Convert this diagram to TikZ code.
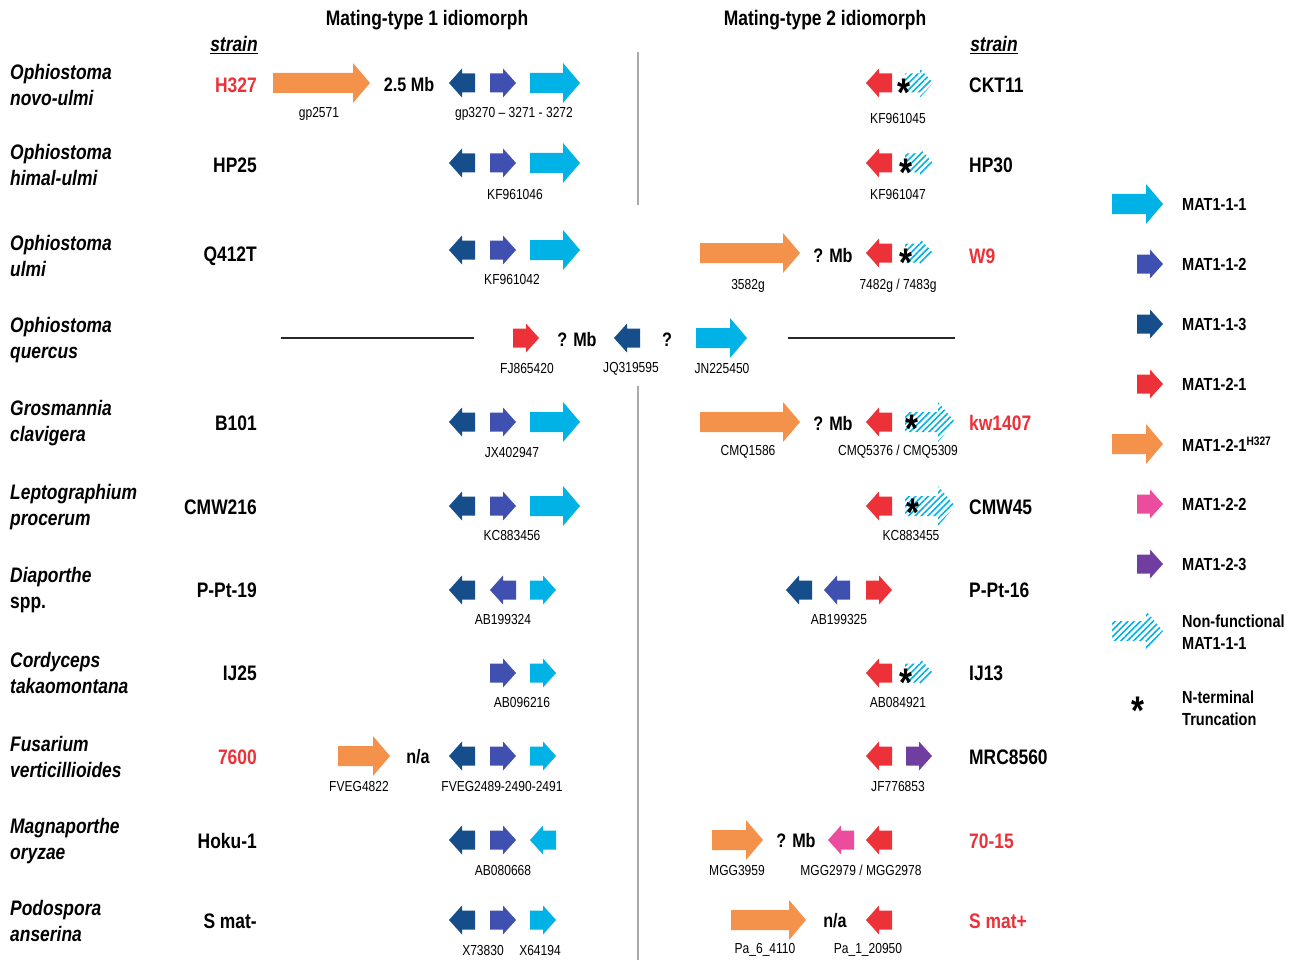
\documentclass[tikz,border=0pt]{standalone}
\usepackage{fontspec}
\setmainfont{Liberation Sans}[FakeStretch=0.83]
\usetikzlibrary{patterns.meta}
\definecolor{cyanc}{RGB}{0,178,230}
\definecolor{bluec}{RGB}{64,80,176}
\definecolor{dkbluec}{RGB}{22,78,140}
\definecolor{redc}{RGB}{236,50,56}
\definecolor{orangec}{RGB}{244,146,76}
\definecolor{pinkc}{RGB}{236,76,158}
\definecolor{purplec}{RGB}{112,62,160}
\definecolor{linec}{RGB}{40,40,40}
\definecolor{divc}{RGB}{170,170,170}
% small right arrow: #1 left x, #2 centre y, #3 style
\newcommand\gSR[3]{\fill[#3] (#1,#2-9.5) -- (#1+13,#2-9.5) -- (#1+13,#2-14.5) -- (#1+26,#2) -- (#1+13,#2+14.5) -- (#1+13,#2+9.5) -- (#1,#2+9.5) -- cycle;}
% small left arrow: #1 left x (tip), #2 centre y, #3 style
\newcommand\gSL[3]{\fill[#3] (#1+26,#2-9.5) -- (#1+13,#2-9.5) -- (#1+13,#2-14.5) -- (#1,#2) -- (#1+13,#2+14.5) -- (#1+13,#2+9.5) -- (#1+26,#2+9.5) -- cycle;}
% big right arrow: #1 left x, #2 tip x, #3 centre y, #4 style
\newcommand\gBR[4]{\fill[#4] (#1,#3-10) -- (#2-17,#3-10) -- (#2-17,#3-20) -- (#2,#3) -- (#2-17,#3+20) -- (#2-17,#3+10) -- (#1,#3+10) -- cycle;}
% hatched small right arrow (length 28)
\newcommand\gHS[2]{\fill[nonf] (#1,#2-9.5) -- (#1+15,#2-9.5) -- (#1+15,#2-14.5) -- (#1+28,#2) -- (#1+15,#2+14.5) -- (#1+15,#2+9.5) -- (#1,#2+9.5) -- cycle;}
\begin{document}
\begin{tikzpicture}[x=1pt,y=-1pt,
  mat111/.style={fill=cyanc}, mat112/.style={fill=bluec}, mat113/.style={fill=dkbluec},
  mat121/.style={fill=redc}, mat121h/.style={fill=orangec}, mat122/.style={fill=pinkc},
  mat123/.style={fill=purplec},
  nonf/.style={pattern={Lines[angle=45,distance=4.5pt,line width=1.6pt]}, pattern color=cyanc},
  header/.style={font=\fontsize{21}{21}\selectfont\bfseries},
  species/.style={anchor=west, align=left, inner sep=0pt, font=\fontsize{21}{26}\selectfont\bfseries\itshape},
  strainL/.style={anchor=east, inner sep=0pt, font=\fontsize{21}{21}\selectfont\bfseries},
  strainR/.style={anchor=west, inner sep=0pt, font=\fontsize{21}{21}\selectfont\bfseries},
  redtext/.style={text=redc},
  gene/.style={inner sep=0pt, font=\fontsize{14.5}{14.5}\selectfont},
  dist/.style={inner sep=0pt, font=\fontsize{19.5}{19.5}\selectfont\bfseries},
  ast/.style={anchor=base, inner sep=0pt, font=\fontsize{40}{40}\selectfont\bfseries},
  leg/.style={anchor=west, align=left, inner sep=0pt, font=\fontsize{17.5}{21.5}\selectfont\bfseries},
  divider/.style={draw=divc, line width=1.5pt},
  hline/.style={draw=linec, line width=1.8pt}]
\useasboundingbox (0,0) rectangle (1295,960);
\fill[white] (0,0) rectangle (1295,960);

% headers
\node[header] (h1) at (427,20) {Mating-type 1 idiomorph};
\node[header] (h2) at (825,20) {Mating-type 2 idiomorph};
\node[header, font=\fontsize{21}{21}\selectfont\bfseries\itshape] (st1) at (234,45) {\underline{strain}};
\node[header, font=\fontsize{21}{21}\selectfont\bfseries\itshape] (st2) at (994,45) {\underline{strain}};

% dividers
\coordinate (d1a) at (638,52); \coordinate (d1b) at (638,205);
\coordinate (d2a) at (638,386); \coordinate (d2b) at (638,960);
\draw[divider] (d1a) -- (d1b);
\draw[divider] (d2a) -- (d2b);

% species
\node[species] (sp1) at (10,85) {Ophiostoma\\novo-ulmi};
\node[species] (sp2) at (10,165) {Ophiostoma\\himal-ulmi};
\node[species] (sp3) at (10,256) {Ophiostoma\\ulmi};
\node[species] (sp4) at (10,340) {Ophiostoma\\quercus};
\node[species] (sp5) at (10,423) {Grosmannia\\clavigera};
\node[species] (sp6) at (10,507) {Leptographium\\procerum};
\node[species] (sp7) at (10,590) {Diaporthe\\\upshape spp.};
\node[species] (sp8) at (10,673) {Cordyceps\\takaomontana};
\node[species] (sp9) at (10,757) {Fusarium\\verticillioides};
\node[species] (sp10) at (10,841) {Magnaporthe\\oryzae};
\node[species] (sp11) at (10,921) {Podospora\\anserina};

% left strains
\node[strainL, redtext] (sl1) at (257,85) {H327};
\node[strainL] (sl2) at (257,165) {HP25};
\node[strainL] (sl3) at (257,256) {Q412T};
\node[strainL] (sl5) at (257,423) {B101};
\node[strainL] (sl6) at (257,507) {CMW216};
\node[strainL] (sl7) at (257,590) {P-Pt-19};
\node[strainL] (sl8) at (257,673) {IJ25};
\node[strainL, redtext] (sl9) at (257,757) {7600};
\node[strainL] (sl10) at (257,841) {Hoku-1};
\node[strainL] (sl11) at (257,921) {S mat-};

% right strains
\node[strainR] (sr1) at (969,85) {CKT11};
\node[strainR] (sr2) at (969,165) {HP30};
\node[strainR, redtext] (sr3) at (969,256) {W9};
\node[strainR, redtext] (sr5) at (969,423) {kw1407};
\node[strainR] (sr6) at (969,507) {CMW45};
\node[strainR] (sr7) at (969,590) {P-Pt-16};
\node[strainR] (sr8) at (969,673) {IJ13};
\node[strainR] (sr9) at (969,757) {MRC8560};
\node[strainR, redtext] (sr10) at (969,841) {70-15};
\node[strainR, redtext] (sr11) at (969,921) {S mat+};

% ---------- row 1
\gBR{273}{370}{83}{mat121h}
\node[dist] (r1mb) at (409,85) {2.5 Mb};
\gSL{449}{83}{mat113}
\gSR{490}{83}{mat112}
\gBR{530}{580}{83}{mat111}
\node[gene] (g1a) at (319,114) {gp2571};
\node[gene] (g1b) at (514,114) {gp3270 -- 3271 - 3272};
\gSL{866}{83}{mat121}
\gHS{905}{83}
\node[ast] (a1) at (904,107) {\smash{*}};
\node[gene] (g1c) at (898,119) {KF961045};

% ---------- row 2
\gSL{449}{163}{mat113}
\gSR{490}{163}{mat112}
\gBR{530}{580}{163}{mat111}
\node[gene] (g2a) at (515,195) {KF961046};
\gSL{866}{163}{mat121}
\gHS{905}{163}
\node[ast] (a2) at (906,186) {\smash{*}};
\node[gene] (g2b) at (898,195) {KF961047};

% ---------- row 3
\gSL{449}{250}{mat113}
\gSR{490}{250}{mat112}
\gBR{530}{580}{250}{mat111}
\node[gene] (g3a) at (512,280) {KF961042};
\gBR{700}{800}{253}{mat121h}
\node[dist] (r3mb) at (833,256) {? Mb};
\gSL{866}{253}{mat121}
\gHS{905}{253}
\node[ast] (a3) at (906,276) {\smash{*}};
\node[gene] (g3b) at (748,286) {3582g};
\node[gene] (g3c) at (898,286) {7482g / 7483g};

% ---------- row 4
\coordinate (l4a) at (281,338); \coordinate (l4b) at (474,338);
\coordinate (l4c) at (788,338); \coordinate (l4d) at (955,338);
\draw[hline] (l4a) -- (l4b);
\draw[hline] (l4c) -- (l4d);
\gSR{513}{338}{mat121}
\node[dist] (r4mb) at (577,340) {? Mb};
\gSL{614}{338}{mat113}
\node[dist] (r4q) at (667,340) {?};
\gBR{696}{747}{338}{mat111}
\node[gene] (g4a) at (527,369) {FJ865420};
\node[gene] (g4b) at (631,369) {JQ319595};
\node[gene] (g4c) at (722,369) {JN225450};

% ---------- row 5
\gSL{449}{422}{mat113}
\gSR{490}{422}{mat112}
\gBR{530}{580}{422}{mat111}
\node[gene] (g5a) at (512,453) {JX402947};
\gBR{700}{800}{422}{mat121h}
\node[dist] (r5mb) at (833,424) {? Mb};
\gSL{866}{422}{mat121}
\gBR{905}{955}{422}{nonf}
\node[ast] (a5) at (912,442) {\smash{*}};
\node[gene] (g5b) at (748,452) {CMQ1586};
\node[gene] (g5c) at (898,452) {CMQ5376 / CMQ5309};

% ---------- row 6
\gSL{449}{506}{mat113}
\gSR{490}{506}{mat112}
\gBR{530}{580}{506}{mat111}
\node[gene] (g6a) at (512,536) {KC883456};
\gSL{866}{506}{mat121}
\gBR{905}{955}{506}{nonf}
\node[ast] (a6) at (913,526) {\smash{*}};
\node[gene] (g6b) at (911,536) {KC883455};

% ---------- row 7
\gSL{449}{590}{mat113}
\gSL{490}{590}{mat112}
\gSR{530}{590}{mat111}
\node[gene] (g7a) at (503,620) {AB199324};
\gSL{786}{590}{mat113}
\gSL{824}{590}{mat112}
\gSR{866}{590}{mat121}
\node[gene] (g7b) at (839,620) {AB199325};

% ---------- row 8
\gSR{490}{673}{mat112}
\gSR{530}{673}{mat111}
\node[gene] (g8a) at (522,703) {AB096216};
\gSL{866}{673}{mat121}
\gHS{905}{673}
\node[ast] (a8) at (906,696) {\smash{*}};
\node[gene] (g8b) at (898,703) {AB084921};

% ---------- row 9
\gBR{338}{390}{756}{mat121h}
\node[dist] (r9na) at (418,757) {n/a};
\gSL{449}{756}{mat113}
\gSR{490}{756}{mat112}
\gSR{530}{756}{mat111}
\node[gene] (g9a) at (359,786) {FVEG4822};
\node[gene] (g9b) at (502,786) {FVEG2489-2490-2491};
\gSL{866}{756}{mat121}
\gSR{906}{756}{mat123}
\node[gene] (g9c) at (898,786) {JF776853};

% ---------- row 10
\gSL{449}{840}{mat113}
\gSR{490}{840}{mat112}
\gSL{530}{840}{mat111}
\node[gene] (g10a) at (503,870) {AB080668};
\gBR{712}{763}{840}{mat121h}
\node[dist] (r10mb) at (796,841) {? Mb};
\gSL{828}{840}{mat122}
\gSL{866}{840}{mat121}
\node[gene] (g10b) at (737,870) {MGG3959};
\node[gene] (g10c) at (861,870) {MGG2979 / MGG2978};

% ---------- row 11
\gSL{449}{920}{mat113}
\gSR{490}{920}{mat112}
\gSR{530}{920}{mat111}
\node[gene] (g11a) at (483,950) {X73830};
\node[gene] (g11b) at (540,950) {X64194};
\gBR{731}{806}{920}{mat121h}
\node[dist] (r11na) at (835,921) {n/a};
\gSL{866}{920}{mat121}
\node[gene] (g11c) at (765,950) {Pa\_6\_4110};
\node[gene] (g11d) at (868,950) {Pa\_1\_20950};

% ---------- legend
\gBR{1112}{1163}{204}{mat111}
\node[leg] (lg1) at (1182,204) {MAT1-1-1};
\gSR{1137}{264}{mat112}
\node[leg] (lg2) at (1182,264) {MAT1-1-2};
\gSR{1137}{324}{mat113}
\node[leg] (lg3) at (1182,324) {MAT1-1-3};
\gSR{1137}{384}{mat121}
\node[leg] (lg4) at (1182,384) {MAT1-2-1};
\gBR{1112}{1163}{444}{mat121h}
\node[leg] (lg5) at (1182,444) {MAT1-2-1\textsuperscript{H327}};
\gSR{1137}{504}{mat122}
\node[leg] (lg6) at (1182,504) {MAT1-2-2};
\gSR{1137}{564}{mat123}
\node[leg] (lg7) at (1182,564) {MAT1-2-3};
\gBR{1112}{1163}{631}{nonf}
\node[leg] (lg8) at (1182,632) {Non-functional\\MAT1-1-1};
\node[ast] (lga) at (1138,724) {\smash{*}};
\node[leg] (lg9) at (1182,708) {N-terminal\\Truncation};
\end{tikzpicture}
\end{document}
